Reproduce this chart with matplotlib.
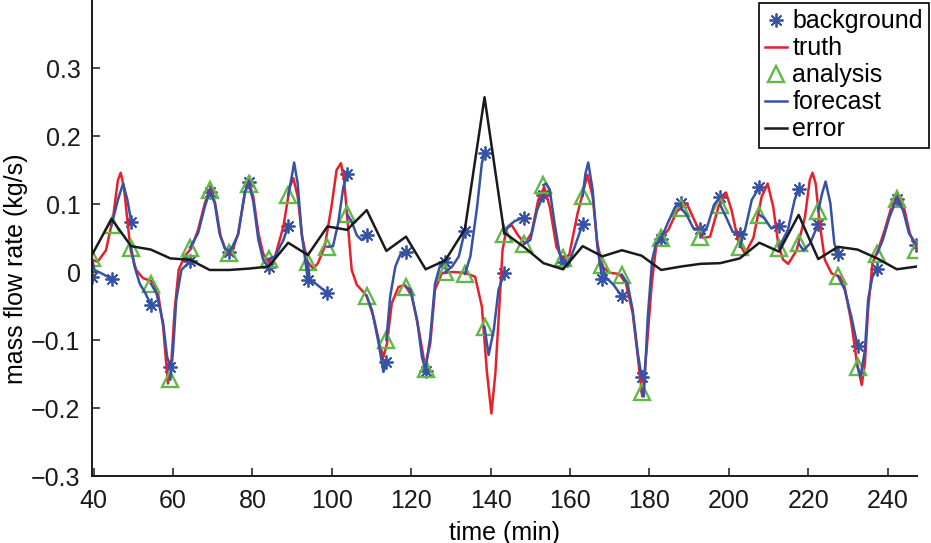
import numpy as np
import matplotlib
matplotlib.use('Agg')
import matplotlib.pyplot as plt

# sample (assimilation) times, min
times = [39.55, 44.50, 49.44, 54.39, 59.33, 64.28, 69.23, 74.17, 79.12, 84.06,
         89.01, 93.96, 98.90, 103.85, 108.79, 113.74, 118.69, 123.63, 128.58, 133.52,
         138.47, 143.42, 148.36, 153.31, 158.25, 163.20, 168.15, 173.09, 178.04, 182.98,
         187.93, 192.88, 197.82, 202.77, 207.71, 212.66, 217.61, 222.55, 227.50, 232.44,
         237.39, 242.34, 247.28]

background = [-0.007, -0.010, 0.074, -0.048, -0.140, 0.016, 0.118, 0.030, 0.132, 0.008,
              0.068, -0.012, -0.031, 0.144, 0.054, -0.133, 0.029, -0.145, 0.015, 0.061,
              0.175, -0.002, 0.080, 0.113, 0.015, 0.071, -0.011, -0.036, -0.154, 0.048,
              0.101, 0.063, 0.110, 0.056, 0.125, 0.068, 0.122, 0.071, 0.027, -0.109,
              0.005, 0.108, 0.040]

analysis = [0.020, 0.069, 0.036, -0.017, -0.158, 0.036, 0.120, 0.028, 0.130, 0.019,
            0.113, 0.014, 0.037, 0.085, -0.035, -0.100, -0.022, -0.142, 0.000, -0.003,
            -0.081, 0.056, 0.041, 0.128, 0.020, 0.112, 0.010, -0.004, -0.176, 0.050,
            0.094, 0.051, 0.099, 0.037, 0.084, 0.036, 0.042, 0.090, -0.006, -0.139,
            0.027, 0.107, 0.032]

error = [0.025, 0.078, 0.038, 0.033, 0.020, 0.018, 0.003, 0.003, 0.005, 0.008,
         0.043, 0.025, 0.067, 0.062, 0.091, 0.031, 0.052, 0.004, 0.017, 0.063,
         0.257, 0.058, 0.037, 0.013, 0.004, 0.038, 0.023, 0.032, 0.024, 0.003,
         0.008, 0.012, 0.013, 0.020, 0.043, 0.030, 0.084, 0.019, 0.037, 0.033,
         0.020, 0.004, 0.008]

truth_t = [39.55, 41.0, 43.1, 44.9, 46.1, 46.8, 47.6, 48.5, 49.3, 50.7, 52.4, 54.9,
           56.2, 57.5, 58.7, 59.5, 60.4, 61.4, 62.9, 64.6, 66.3, 68.0, 69.4, 70.6,
           72.0, 73.4, 74.7, 76.4, 78.1, 79.1, 80.2, 81.5, 82.7, 84.0, 85.7, 87.8,
           89.4, 90.3, 91.4, 92.5, 93.9, 95.3, 96.5, 98.2, 99.9, 101.2, 102.3, 103.1,
           104.0, 105.0, 106.3, 107.9, 108.8, 110.5, 112.2, 113.0, 113.9, 115.1, 116.8,
           118.4, 120.2, 121.9, 123.5, 124.8, 126.0, 127.7, 130.3, 133.4, 136.1, 137.8,
           139.1, 140.2, 141.2, 142.2, 143.0, 144.0, 145.3, 146.9, 148.6, 150.3, 152.0,
           153.5, 154.9, 156.6, 158.1, 159.8, 161.9, 164.4, 165.7, 166.9, 168.2, 169.9,
           172.4, 174.1, 175.8, 177.1, 178.2, 179.3, 180.6, 181.7, 183.0, 184.8, 186.9,
           189.4, 191.5, 193.6, 195.3, 197.4, 199.3, 200.7, 202.4, 204.1, 206.2, 208.3,
           209.8, 211.2, 212.5, 213.7, 215.0, 217.1, 219.2, 220.4, 221.1, 221.9, 222.9,
           224.2, 225.9, 228.0, 229.2, 230.9, 232.3, 233.5, 234.3, 235.1, 236.2, 237.6,
           239.3, 241.0, 242.9, 244.3, 245.6, 247.28]
truth_v = [0.018, 0.015, 0.032, 0.081, 0.135, 0.146, 0.125, 0.076, 0.032, 0.003, -0.009, -0.014,
           -0.031, -0.080, -0.164, -0.139, -0.056, 0.003, 0.023, 0.035, 0.062, 0.101, 0.123, 0.101,
           0.052, 0.030, 0.026, 0.057, 0.116, 0.133, 0.111, 0.057, 0.027, 0.015, 0.023, 0.067,
           0.125, 0.138, 0.111, 0.052, 0.015, 0.005, 0.013, 0.037, 0.096, 0.150, 0.160, 0.135,
           0.072, 0.003, -0.019, -0.029, -0.036, -0.066, -0.110, -0.125, -0.105, -0.046, -0.022,
           -0.019, -0.036, -0.085, -0.139, -0.105, -0.026, -0.002, 0.000, -0.001, -0.007, -0.051,
           -0.149, -0.208, -0.149, -0.051, 0.032, 0.064, 0.069, 0.054, 0.042, 0.057, 0.106,
           0.125, 0.096, 0.037, 0.020, 0.025, 0.086, 0.143, 0.111, 0.042, 0.008, -0.001,
           -0.003, -0.017, -0.061, -0.125, -0.183, -0.115, -0.017, 0.037, 0.051, 0.062, 0.089,
           0.101, 0.074, 0.050, 0.052, 0.096, 0.117, 0.091, 0.045, 0.027, 0.050, 0.111,
           0.130, 0.096, 0.040, 0.018, 0.012, 0.032, 0.081, 0.135, 0.146, 0.130, 0.072,
           0.018, -0.002, -0.007, -0.022, -0.075, -0.134, -0.166, -0.134, -0.056, 0.013, 0.032,
           0.062, 0.096, 0.113, 0.091, 0.057, 0.035]

# forecast: inner points of each run from analysis k to background k+1
forecast_mid = [
    [(40.2, 0.003), (42.3, -0.003)],
    [(46.1, 0.106), (47.4, 0.130), (48.5, 0.106)],
    [(50.3, 0.008), (51.6, -0.017), (53.0, -0.031)],
    [(55.8, -0.031), (57.5, -0.075), (58.5, -0.125)],
    [(60.0, -0.115), (60.8, -0.041), (62.1, 0.003)],
    [(66.3, 0.057), (68.0, 0.096)],
    [(70.5, 0.101), (71.7, 0.057), (73.0, 0.035)],
    [(76.4, 0.055), (78.1, 0.118)],
    [(80.2, 0.104), (81.5, 0.047), (82.7, 0.018)],
    [(85.7, 0.023), (87.8, 0.047)],
    [(89.9, 0.140), (90.5, 0.161), (91.4, 0.130), (92.4, 0.057)],
    [(94.5, -0.014), (95.7, -0.016), (97.4, -0.024)],
    [(100.3, 0.038), (101.6, 0.072), (102.9, 0.125)],
    [(105.0, 0.074), (106.3, 0.054), (107.5, 0.047)],
    [(110.1, -0.056), (111.8, -0.105), (113.0, -0.147)],
    [(114.7, -0.036), (116.0, 0.008), (117.2, 0.025)],
    [(119.8, -0.026), (121.5, -0.071), (122.7, -0.125)],
    [(124.8, -0.095), (126.0, -0.017), (127.3, 0.010)],
    [(130.3, 0.008), (132.0, 0.023)],
    [(134.9, 0.023), (136.6, 0.096), (137.8, 0.160)],
    [(139.5, -0.122), (140.8, -0.085), (142.0, -0.026)],
    [(144.4, 0.067), (146.1, 0.075)],
    [(150.0, 0.047), (151.7, 0.091)],
    [(154.0, 0.130), (154.9, 0.121), (156.1, 0.072), (157.4, 0.027)],
    [(159.5, 0.010), (161.2, 0.037)],
    [(163.9, 0.145), (164.6, 0.161), (165.7, 0.121), (166.9, 0.037)],
    [(168.9, -0.007), (171.0, -0.019)],
    [(174.5, -0.017), (175.8, -0.056), (177.1, -0.120)],
    [(178.6, -0.183), (179.6, -0.066), (180.7, 0.018), (181.7, 0.042)],
    [(184.8, 0.074), (186.5, 0.096)],
    [(189.4, 0.084), (191.1, 0.064)],
    [(194.6, 0.067), (196.3, 0.099)],
    [(199.3, 0.081), (201.0, 0.059)],
    [(204.1, 0.062), (205.8, 0.106)],
    [(209.0, 0.079), (210.7, 0.064)],
    [(214.9, 0.062), (216.6, 0.106)],
    [(218.8, 0.032), (220.5, 0.042)],
    [(223.5, 0.115), (224.4, 0.133), (225.6, 0.101), (226.6, 0.042)],
    [(229.2, -0.026), (230.9, -0.066)],
    [(233.2, -0.154), (234.3, -0.115), (235.1, -0.041), (236.2, -0.007)],
    [(238.8, 0.047), (240.5, 0.081)],
    [(243.9, 0.091), (245.4, 0.057)],
]

ytick_vals = [-0.3, -0.2, -0.1, 0, 0.1, 0.2, 0.3]
ytick_labels = ['\u22120.3', '\u22120.2', '\u22120.1', '0', '0.1', '0.2', '0.3']
xtick_vals = [40, 60, 80, 100, 120, 140, 160, 180, 200, 220, 240]

# build forecast runs separated by NaN
fc_t, fc_v = [], []
for k, mid in enumerate(forecast_mid):
    fc_t += [times[k]] + [p[0] for p in mid] + [times[k + 1], np.nan]
    fc_v += [analysis[k]] + [p[1] for p in mid] + [background[k + 1], np.nan]

plt.rcParams['font.family'] = ['Liberation Sans', 'DejaVu Sans']
plt.rcParams['font.size'] = 18

blue = '#3652a6'
red = '#e8202a'
green = '#62b846'

fig = plt.figure(figsize=(9.31, 5.43), dpi=100)
ax = fig.add_axes([91.7 / 931, 67 / 543, (916.5 - 91.7) / 931, 476 / 543])

ax.plot(times, background, linestyle='none', marker=(8, 2, 0), markersize=10,
        markeredgewidth=1.3, color=blue, label='background')
ax.plot(truth_t, truth_v, color=red, linewidth=1.8, label='truth')
ax.plot(times, analysis, linestyle='none', marker='^', markersize=11,
        markerfacecolor='none', markeredgecolor=green, markeredgewidth=1.7, label='analysis')
ax.plot(fc_t, fc_v, color=blue, linewidth=1.8, label='forecast')
ax.plot(times, error, color='#1a1a1a', linewidth=1.8, label='error')

ax.set_xlim(39.5, 247.3)
ax.set_ylim(-0.3, 0.4)
ax.set_xticks(xtick_vals)
ax.set_yticks(ytick_vals)
ax.set_yticklabels(ytick_labels)
ax.tick_params(direction='in', length=6, width=1.1, colors='#1a1a1a', pad=8)
ax.tick_params(axis='x', pad=9)
for side in ['top', 'right']:
    ax.spines[side].set_visible(False)
for side in ['left', 'bottom']:
    ax.spines[side].set_linewidth(1.4)
    ax.spines[side].set_color('#1a1a1a')

ax.set_xlabel('time (min)', labelpad=6)
ax.set_ylabel('mass flow rate (kg/s)')
ax.yaxis.set_label_coords(-0.077, 0.435)

leg = ax.legend(loc='upper right', bbox_to_anchor=(929 / 931, 1 - 3 / 543),
                bbox_transform=fig.transFigure, fancybox=False, edgecolor='black',
                framealpha=1, borderpad=0.25, labelspacing=0.12, handlelength=0.9,
                handletextpad=0.2, borderaxespad=0)
leg.get_frame().set_linewidth(1.2)

fig.savefig('out.png', dpi=100)
